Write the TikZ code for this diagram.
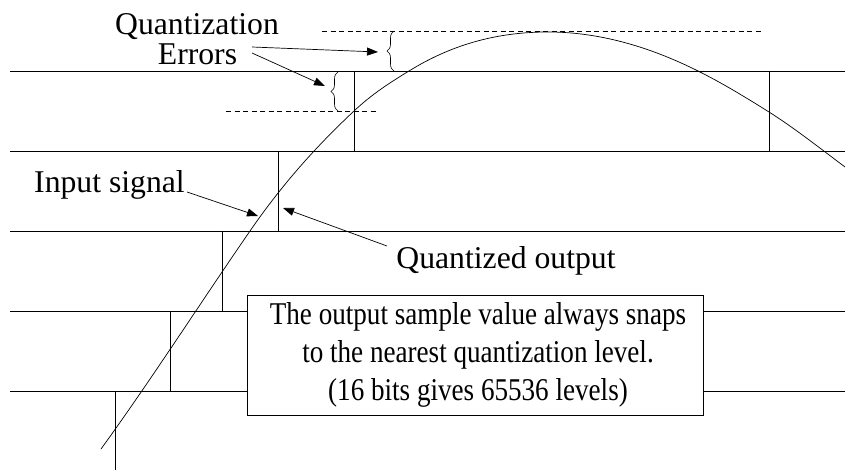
\documentclass[tikz,border=0pt]{standalone}
\usepackage{fontspec}
\setmainfont{Liberation Serif}
\newfontfamily\boxfont[FakeStretch=0.855]{Liberation Serif}
\usetikzlibrary{arrows.meta,decorations.pathreplacing}
\begin{document}
\begin{tikzpicture}[x=1pt,y=-1pt,
  level/.style={line width=0.9pt},
  quant/.style={line width=0.9pt},
  signal/.style={line width=0.7pt},
  dashline/.style={line width=0.6pt, dash pattern=on 5pt off 3.5pt},
  lbl/.style={font=\fontsize{31.7}{34}\selectfont, inner sep=0pt},
  boxtxt/.style={font=\boxfont\fontsize{31.7}{34}\selectfont, inner sep=0pt, anchor=base},
  ptr/.style={-{Triangle[length=11pt,width=8pt]}, line width=0.7pt},
  errbrace/.style={decorate, decoration={brace, amplitude=7pt}, line width=0.6pt}
]
\useasboundingbox (0,0) rectangle (845,470);
% quantization levels
\foreach \yy in {71,151,231,311,391}{
  \draw[level] (10,\yy) -- (845,\yy);
}
% quantized output steps
\draw[quant] (115,391) -- (115,470);
\draw[quant] (170,311) -- (170,391);
\draw[quant] (222,231) -- (222,311);
\draw[quant] (278,151) -- (278,231);
\draw[quant] (354,71) -- (354,151);
\draw[quant] (769,71) -- (769,151);
% dashed reference lines
\draw[dashline] (322,31) -- (763,31);
\draw[dashline] (226,111) -- (378,111);
% input signal
\draw[signal] (101,449)
  .. controls (150.7,380.5) and (200.3,303) .. (250,231)
  .. controls (284.7,180.7) and (319.3,143.6) .. (354,111)
  .. controls (372.3,93.8) and (390.3,82.4) .. (409,71)
  .. controls (455.3,42.3) and (501.7,32) .. (548,32)
  .. controls (598,32) and (648,46) .. (698,71)
  .. controls (721.7,82.8) and (745.3,97.1) .. (769,112)
  .. controls (794.3,128) and (819.7,148) .. (845,167);
% braces
\draw[errbrace] (394,71) -- (394,31);
\draw[errbrace] (338,111) -- (338,72);
\coordinate (uppertip) at (378,52);
\coordinate (lowertip) at (325,86);
% info box
\node[draw, fill=white, line width=0.8pt, minimum width=456pt, minimum height=120pt, inner sep=0pt] (box) at (475,355) {};
\node[boxtxt] (bl1) at (478,324) {The output sample value always snaps};
\node[boxtxt] (bl2) at (478,362) {to the nearest quantization level.};
\node[boxtxt] (bl3) at (478,400) {(16 bits gives 65536 levels)};
% labels
\node[lbl, anchor=base] (qlab) at (197,35) {Quantization};
\node[lbl, anchor=base] (elab) at (197.5,65) {Errors};
\node[lbl, anchor=base west] (inlab) at (34,193) {Input signal};
\node[lbl, anchor=base] (outlab) at (506,268) {Quantized output};
% pointers
\coordinate (e1) at (252,47);
\coordinate (e2) at (252,53);
\coordinate (intip) at (258,216);
\coordinate (outtip) at (283,208);
\coordinate (instart) at (187,192);
\coordinate (outstart) at (387,246);
\draw[ptr] (e1) -- (uppertip);
\draw[ptr] (e2) -- (lowertip);
\draw[ptr] (instart) -- (intip);
\draw[ptr] (outstart) -- (outtip);
\end{tikzpicture}
\end{document}
